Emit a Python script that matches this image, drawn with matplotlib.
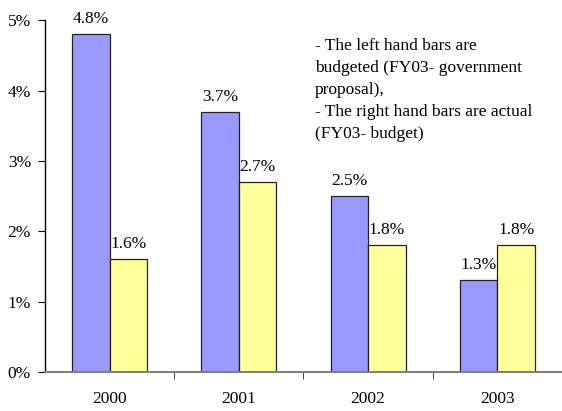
import matplotlib.pyplot as plt
import numpy as np

plt.rcParams['font.family'] = ['Liberation Serif', 'DejaVu Serif']

years = ['2000', '2001', '2002', '2003']
budgeted = [4.8, 3.7, 2.5, 1.3]
actual = [1.6, 2.7, 1.8, 1.8]

fig = plt.figure(figsize=(5.62, 4.11), dpi=100)
ax = fig.add_axes([0.08, 0.095, 0.92, 0.856])

x = np.arange(len(years))
w = 0.29
b1 = ax.bar(x - w / 2, budgeted, w, color='#9999FF', edgecolor='#222222', linewidth=0.9)
b2 = ax.bar(x + w / 2, actual, w, color='#FFFF99', edgecolor='#222222', linewidth=0.9)

for bars, vals in ((b1, budgeted), (b2, actual)):
    for r, v in zip(bars, vals):
        ax.text(r.get_x() + r.get_width() / 2, v + 0.1, '%.1f%%' % v,
                ha='center', va='bottom', fontsize=12.5)

ax.set_xlim(-0.5, 3.5)
ax.set_ylim(0, 5)
ax.set_yticks(range(6))
ax.set_yticklabels(['%d%%' % i for i in range(6)], fontsize=12.5)
ax.set_xticks(x)
ax.set_xticklabels(years, fontsize=12.5)
ax.set_xticks(np.arange(0.5, 3.5, 1), minor=True)
ax.tick_params(axis='x', which='major', length=0, pad=14)
ax.tick_params(axis='x', which='minor', length=5, direction='out', color='#222222')
ax.tick_params(axis='y', length=5, direction='out', pad=5)

ax.spines['top'].set_visible(False)
ax.spines['right'].set_visible(False)
ax.spines['bottom'].set_color('#808080')
ax.spines['bottom'].set_linewidth(1.5)
ax.spines['left'].set_linewidth(1.0)

ax.text(0.522, 0.95, '- The left hand bars are\nbudgeted (FY03- government\nproposal),\n'
        '- The right hand bars are actual\n(FY03- budget)',
        transform=ax.transAxes, ha='left', va='top', fontsize=12.5, linespacing=1.5)

fig.savefig('out.png', dpi=100)
